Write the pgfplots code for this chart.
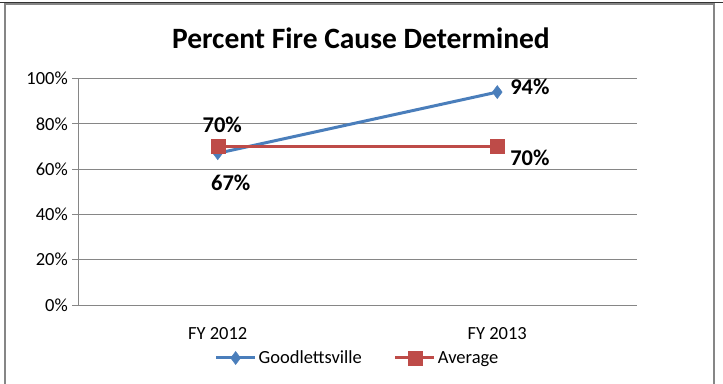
\documentclass[border=0pt]{standalone}
\usepackage{pgfplots}
\pgfplotsset{compat=1.18}
\usepackage{fontspec}
\setmainfont{Carlito}
\definecolor{gblue}{HTML}{4A7EBB}
\definecolor{ared}{HTML}{BE4B48}
\definecolor{gridc}{HTML}{868686}
\begin{document}
\begin{tikzpicture}[x=1pt,y=1pt]
\useasboundingbox (0,0) rectangle (723,383);
\fill[white] (0,0) rectangle (723,383);
\draw[gridc, line width=1.2pt] (5,-5) -- (5,379) -- (714,379) -- (714,-5);
\draw[black!80, line width=1.0pt] (0,380) -- (723,380);
\node[font=\fontsize{29.5}{34}\selectfont\bfseries] at (361,345) {Percent Fire Cause Determined};
\begin{axis}[
  at={(78pt,78pt)}, anchor=south west,
  scale only axis, width=559pt, height=226.5pt,
  xmin=-0.5, xmax=1.5, ymin=0, ymax=1,
  xtick={0,1}, xticklabels={FY 2012, FY 2013},
  major x tick style={draw=none},
  extra x ticks={-0.5,0.5,1.5}, extra x tick labels={},
  extra x tick style={tick style={draw=gridc, line width=0.8pt}, major tick length=6pt, tick pos=left},
  ytick={0,0.2,0.4,0.6,0.8,1.0},
  yticklabels={0\%,20\%,40\%,60\%,80\%,100\%},
  ymajorgrids, grid style={gridc, line width=0.8pt},
  axis line style={gridc, line width=0.8pt},
  axis x line*=bottom, axis y line*=left,
  y tick style={draw=gridc, line width=0.8pt},
  major tick length=6pt,
  tick align=outside,
  tick label style={font=\fontsize{18.5}{22}\selectfont, text=black},
  yticklabel style={anchor=east, inner sep=0pt, xshift=-4pt},
  xticklabel style={anchor=center, inner sep=0pt, yshift=-23pt},
  clip=false,
  legend columns=2,
  legend style={draw=none, fill=none, at={(0.5,-0.234)}, anchor=center,
    font=\fontsize{18.5}{22}\selectfont, inner sep=0pt,
    /tikz/every even column/.append style={column sep=30pt}},
  legend cell align=left,
  legend image code/.code={\draw[mark repeat=2,mark phase=2] plot coordinates {(0pt,0pt) (19.5pt,0pt) (39pt,0pt)};},
]
\addplot[gblue, line width=3pt, mark=diamond*, mark size=6.5pt, mark options={fill=gblue, draw=gblue, line width=0.5pt}]
  coordinates {(0,0.67) (1,0.94)}
  node[pos=0, font=\fontsize{22.5}{26}\selectfont\bfseries, text=black, xshift=13pt, yshift=-30pt] {67\%}
  node[pos=1, font=\fontsize{22.5}{26}\selectfont\bfseries, text=black, anchor=west, inner sep=0pt, xshift=11.5pt, yshift=5pt] {94\%};
\addlegendentry{Goodlettsville}
\addplot[ared, line width=3pt, mark=square*, mark size=7pt, mark options={fill=ared, draw=ared, line width=0.5pt}]
  coordinates {(0,0.70) (1,0.70)}
  node[pos=0, font=\fontsize{22.5}{26}\selectfont\bfseries, text=black, xshift=4.5pt, yshift=22pt] {70\%}
  node[pos=1, font=\fontsize{22.5}{26}\selectfont\bfseries, text=black, anchor=west, inner sep=0pt, xshift=11.5pt, yshift=-11pt] {70\%};
\addlegendentry{Average}
\end{axis}
\end{tikzpicture}
\end{document}
